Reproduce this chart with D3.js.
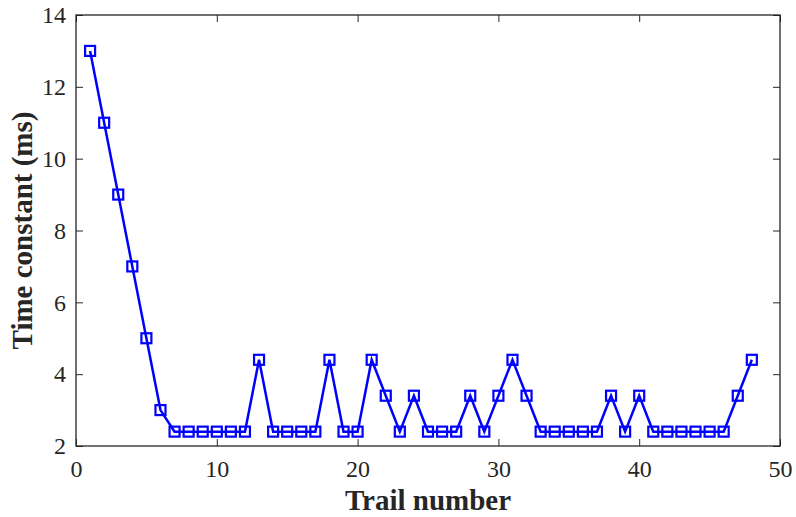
<!DOCTYPE html>
<html>
<head>
<meta charset="utf-8">
<script src="https://cdn.jsdelivr.net/npm/d3@7"></script>
<style>
  body { margin: 0; background: #fff; }
  text { font-family: "Liberation Serif", "Times New Roman", serif; fill: #262626; }
</style>
</head>
<body>
<div id="chart"></div>
<script>
// trail index and measured time constant (ms)
var trails = d3.range(1, 49);
var timeConst = [13, 11, 9, 7, 5, 3, 2.4, 2.4, 2.4, 2.4, 2.4, 2.4,
  4.4, 2.4, 2.4, 2.4, 2.4, 4.4, 2.4, 2.4, 4.4, 3.4, 2.4, 3.4,
  2.4, 2.4, 2.4, 3.4, 2.4, 3.4, 4.4, 3.4, 2.4, 2.4, 2.4, 2.4,
  2.4, 3.4, 2.4, 3.4, 2.4, 2.4, 2.4, 2.4, 2.4, 2.4, 3.4, 4.4];
var xTicks = [0, 10, 20, 30, 40, 50];
var yTicks = [2, 4, 6, 8, 10, 12, 14];

var width = 796, height = 517;
var m = {left: 76, right: 16, top: 15, bottom: 71};
var w = width - m.left - m.right, h = height - m.top - m.bottom;
var axisColor = '#262626';

var svg = d3.select('#chart').append('svg')
    .attr('width', width)
    .attr('height', height);

var g = svg.append('g').attr('transform', 'translate(' + m.left + ',' + m.top + ')');

var x = d3.scaleLinear().domain([0, 50]).range([0, w]);
var y = d3.scaleLinear().domain([2, 14]).range([h, 0]);

function styleAxis(sel) {
  sel.select('.domain').remove();
  sel.selectAll('line').attr('stroke', axisColor).attr('stroke-width', 1);
  sel.selectAll('text').style('font-size', '24px').attr('fill', axisColor);
}

// bottom + left axes with labels, ticks pointing inward
g.append('g')
    .attr('transform', 'translate(0,' + h + ')')
    .call(d3.axisBottom(x).tickValues(xTicks).tickSizeInner(-7).tickSizeOuter(0).tickPadding(14))
    .call(styleAxis);

g.append('g')
    .call(d3.axisLeft(y).tickValues(yTicks).tickSizeInner(-7).tickSizeOuter(0).tickPadding(10))
    .call(styleAxis);

// top + right mirror ticks
g.append('g')
    .call(d3.axisTop(x).tickValues(xTicks).tickSizeInner(-7).tickSizeOuter(0).tickFormat(''))
    .call(styleAxis);

g.append('g')
    .attr('transform', 'translate(' + w + ',0)')
    .call(d3.axisRight(y).tickValues(yTicks).tickSizeInner(-7).tickSizeOuter(0).tickFormat(''))
    .call(styleAxis);

// box
g.append('rect')
    .attr('width', w)
    .attr('height', h)
    .attr('fill', 'none')
    .attr('stroke', axisColor)
    .attr('stroke-width', 1.3);

var line = d3.line()
    .x(function(d, i) { return x(trails[i]); })
    .y(function(d) { return y(d); });

g.append('path')
    .datum(timeConst)
    .attr('fill', 'none')
    .attr('stroke', '#0000ff')
    .attr('stroke-width', 2.5)
    .attr('d', line);

var ms = 10;
g.selectAll('.marker')
    .data(timeConst)
  .enter().append('rect')
    .attr('class', 'marker')
    .attr('x', function(d, i) { return x(trails[i]) - ms / 2; })
    .attr('y', function(d) { return y(d) - ms / 2; })
    .attr('width', ms)
    .attr('height', ms)
    .attr('fill', 'none')
    .attr('stroke', '#0000ff')
    .attr('stroke-width', 2.2);

// axis titles
svg.append('text')
    .attr('x', m.left + w / 2)
    .attr('y', 510)
    .attr('text-anchor', 'middle')
    .style('font-size', '29px')
    .style('font-weight', 'bold')
    .text('Trail number');

svg.append('text')
    .attr('transform', 'translate(32,' + (m.top + h / 2) + ') rotate(-90)')
    .attr('text-anchor', 'middle')
    .style('font-size', '29px')
    .style('font-weight', 'bold')
    .text('Time constant (ms)');
</script>
</body>
</html>
